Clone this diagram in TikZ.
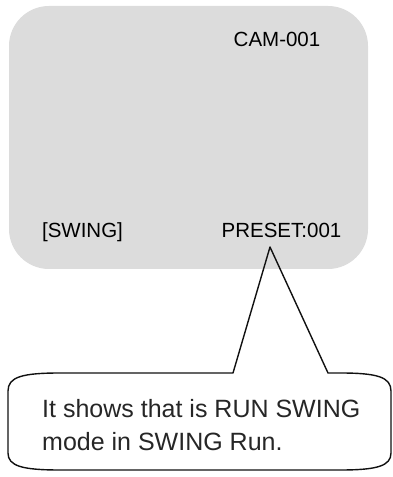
\documentclass[tikz,border=0pt]{standalone}
\usepackage{fontspec}
\setmainfont{Liberation Sans}
\usepackage{xcolor}
\usepackage{tikz}
\usetikzlibrary{positioning,calc}
\definecolor{screenfill}{HTML}{DCDCDC}
\definecolor{linegray}{HTML}{111111}
\tikzset{
  % --- on-screen display ---
  screen/.style={fill=screenfill, draw=none, rounded corners=40pt,
                 minimum width=359pt, minimum height=263pt, inner sep=0pt},
  osdtext/.style={font=\fontsize{20.5}{24}\selectfont, inner sep=0pt,
                  anchor=base, text=black},
  % --- callout balloon ---
  balloon/.style={draw=linegray, line width=1.4pt, line join=round},
  notetext/.style={font=\fontsize{25}{33}\selectfont, inner sep=0pt,
                   align=left, anchor=base west, text=black!85},
}
\begin{document}
\begin{tikzpicture}[x=1pt,y=1pt]
  \useasboundingbox (0,0) rectangle (393,477);
  \node[screen] (scr) at (188.5,339.5) {};
  \node[osdtext] (cam) at (277,430) {CAM-001};
  \node[osdtext] (mode) at (82.5,239) {[SWING]};
  \node[osdtext] (preset) at (281.5,239) {PRESET:001};
  \coordinate (tip) at (270,230);
  \coordinate (legl) at (233,104);
  \coordinate (legr) at (328,104);
  \draw[balloon] (legl) -- (60,104) .. controls (22,104) and (8,100) .. (8,86)
    -- (8,24) .. controls (8,11) and (22,7) .. (60,7)
    -- (340,7) .. controls (377,7) and (391,11) .. (391,24)
    -- (391,86) .. controls (391,100) and (377,104) .. (340,104)
    -- (legr) -- (tip) -- cycle;
  % base of a two-line node is the last line
  \node[notetext] (note) at (42,27) {It shows that is RUN SWING\\mode in SWING Run.};
\end{tikzpicture}
\end{document}
